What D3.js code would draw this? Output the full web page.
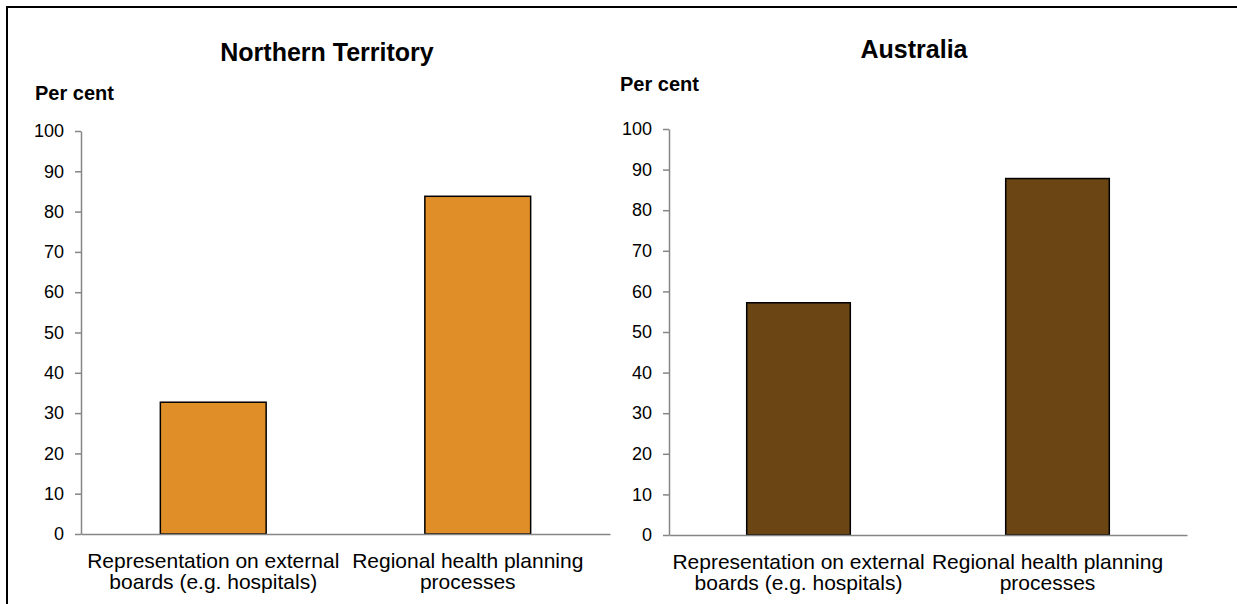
<!DOCTYPE html>
<html>
<head>
<meta charset="utf-8">
<script src="https://cdn.jsdelivr.net/npm/d3@7"></script>
<style>
  html, body { margin: 0; padding: 0; background: #fff; }
  svg { display: block; font-family: "Liberation Sans", Arial, sans-serif; }
</style>
</head>
<body>
<svg id="chart" width="1237" height="604"></svg>
<script>
// ---- Data ----
const categories = [
  ["Representation on external", "boards (e.g. hospitals)"],
  ["Regional health planning", "processes"]
];
const panelTitles = ["Northern Territory", "Australia"];
const ntValues = [32.7, 83.8];
const ausValues = [57.2, 87.8];
const yTicks = [0, 10, 20, 30, 40, 50, 60, 70, 80, 90, 100];
const barColors = ["#E08F28", "#6B4513"];
const yLabel = "Per cent";

const svg = d3.select("#chart");

// outer frame
svg.append("rect")
  .attr("x", 7).attr("y", 7)
  .attr("width", 1240).attr("height", 610)
  .attr("fill", "none").attr("stroke", "#000").attr("stroke-width", 2);

const panels = [
  { title: panelTitles[0], values: ntValues, color: barColors[0],
    x0: 81, x1: 610, y0: 534, y1: 131, titleX: 327, titleY: 61, labX: 35, labY: 100 },
  { title: panelTitles[1], values: ausValues, color: barColors[1],
    x0: 669, x1: 1187, y0: 535, y1: 129, titleX: 914, titleY: 58, labX: 620, labY: 91 }
];
// Excel nudges the right-hand category label inward to keep it inside the plot
const labelShift = [0, -10];

panels.forEach(p => {
  const g = svg.append("g");
  const keys = categories.map((c, i) => i);
  const x = d3.scaleBand().domain(keys).range([p.x0, p.x1]).paddingInner(0.6).paddingOuter(0.3);
  const y = d3.scaleLinear().domain([0, 100]).range([p.y0, p.y1]);

  // title
  g.append("text").attr("x", p.titleX).attr("y", p.titleY)
    .attr("text-anchor", "middle").attr("font-weight", "bold")
    .attr("font-size", 25).attr("fill", "#000").text(p.title);
  // y label
  g.append("text").attr("x", p.labX).attr("y", p.labY)
    .attr("font-weight", "bold").attr("font-size", 20).attr("fill", "#000").text(yLabel);

  // y axis
  const yAxis = d3.axisLeft(y).tickValues(yTicks).tickSize(6).tickPadding(11).tickSizeOuter(0);
  const ya = g.append("g").attr("transform", `translate(${p.x0},0)`).call(yAxis);
  ya.select(".domain").attr("stroke", "#868686").attr("stroke-width", 1.5);
  ya.selectAll(".tick line").attr("stroke", "#868686").attr("stroke-width", 1.5);
  ya.selectAll(".tick text").attr("font-size", 18).attr("fill", "#000")
    .attr("font-family", "Liberation Sans, Arial, sans-serif");

  // bars
  g.selectAll("rect.bar").data(p.values).enter().append("rect")
    .attr("class", "bar")
    .attr("x", (d, i) => x(i))
    .attr("y", d => y(d))
    .attr("width", x.bandwidth())
    .attr("height", d => y(0) - y(d))
    .attr("fill", p.color)
    .attr("stroke", "#000").attr("stroke-width", 1.5);

  // baseline
  const xAxis = d3.axisBottom(x).tickSize(0).tickFormat(() => "");
  const xa = g.append("g").attr("transform", `translate(0,${p.y0})`).call(xAxis);
  xa.select(".domain").attr("stroke", "#868686").attr("stroke-width", 1.5);

  // category labels
  categories.forEach((lines, i) => {
    const t = g.append("text").attr("text-anchor", "middle")
      .attr("font-size", 21).attr("fill", "#000");
    lines.forEach((ln, j) => {
      t.append("tspan").attr("x", x(i) + x.bandwidth() / 2 + labelShift[i])
        .attr("y", p.y0 + 34 + j * 21).text(ln);
    });
  });
});
</script>
</body>
</html>
